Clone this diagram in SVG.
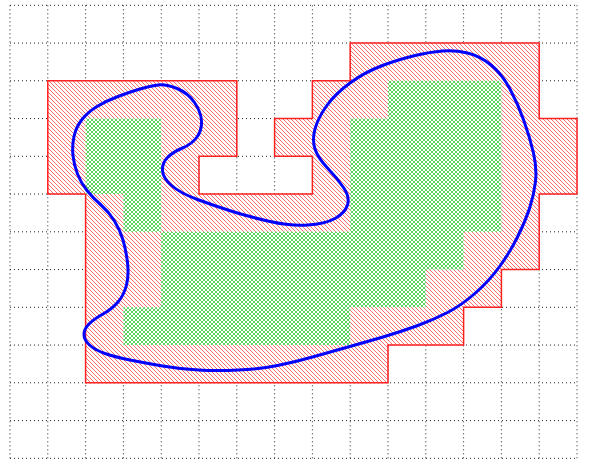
<svg xmlns="http://www.w3.org/2000/svg" width="610" height="461" viewBox="0 0 610 461">
  <style>
    .grid { stroke: #222; stroke-width: 1; stroke-dasharray: 1 3; fill: none; }
    .curve { fill: none; stroke: #0000ff; stroke-width: 3; stroke-linejoin: round; }
  </style>
  <defs>
    <pattern id="nwl" patternUnits="userSpaceOnUse" width="4" height="4">
      <path d="M-1,-1L5,5M-1,3L1,5M3,-1L5,1" stroke="#ff2a2a" stroke-width="0.7"/>
    </pattern>
    <pattern id="cross" patternUnits="userSpaceOnUse" width="4" height="4">
      <path d="M-1,-1L5,5M-1,3L1,5M3,-1L5,1M-1,5L5,-1M-1,1L1,-1M3,5L5,3" stroke="#33cc33" stroke-width="0.8"/>
    </pattern>
  </defs>
  <rect width="610" height="461" fill="#ffffff"/>
  <g id="grid" class="grid">
    <path d="M10,5.3V458.3M47.8,5.3V458.3M85.6,5.3V458.3M123.4,5.3V458.3M161.2,5.3V458.3M199,5.3V458.3M236.8,5.3V458.3M274.6,5.3V458.3M312.4,5.3V458.3M350.2,5.3V458.3M388,5.3V458.3M425.8,5.3V458.3M463.6,5.3V458.3M501.4,5.3V458.3M539.2,5.3V458.3M577,5.3V458.3"/>
    <path d="M10,5.3H577M10,43.05H577M10,80.8H577M10,118.55H577M10,156.3H577M10,194.05H577M10,231.8H577M10,269.55H577M10,307.3H577M10,345.05H577M10,382.8H577M10,420.55H577M10,458.3H577"/>
  </g>
  <g id="red-region">
    <path d="M47.8,80.8H236.8V156.3H199V194.05H312.4V156.3H274.6V118.55H312.4V80.8H350.2V43.05H539.2V118.55H577V194.05H539.2V269.55H501.4V307.3H463.6V345.05H388V382.8H85.6V194.05H47.8Z" fill="#ffffff"/>
    <path d="M47.8,80.8H236.8V156.3H199V194.05H312.4V156.3H274.6V118.55H312.4V80.8H350.2V43.05H539.2V118.55H577V194.05H539.2V269.55H501.4V307.3H463.6V345.05H388V382.8H85.6V194.05H47.8Z" fill="url(#nwl)" stroke="#ff2020" stroke-width="1.5"/>
  </g>
  <g id="green-region">
    <path d="M85.6,118.55H161.2V194.05H85.6Z M123.4,194.05H161.2V231.8H123.4Z M161.2,231.8H463.6V269.55H161.2Z M161.2,269.55H425.8V307.3H161.2Z M123.4,307.3H350.2V345.05H123.4Z M350.2,118.55H501.4V231.8H350.2Z M388,80.8H501.4V118.55H388Z" fill="#ffffff"/>
    <path d="M85.6,118.55H161.2V194.05H85.6Z M123.4,194.05H161.2V231.8H123.4Z M161.2,231.8H463.6V269.55H161.2Z M161.2,269.55H425.8V307.3H161.2Z M123.4,307.3H350.2V345.05H123.4Z M350.2,118.55H501.4V231.8H350.2Z M388,80.8H501.4V118.55H388Z" fill="url(#cross)"/>
  </g>
  <g id="blue-curve">
    <path class="curve" d="M158,85 Q166,84 177,88.5 T194.5,102.5 T201.5,121 T197,137 T182.5,148 T167.5,157.5 T162.5,170.5 T171.5,185.5 T197.5,199.5 T232.5,211.5 T270,221.5 T307.5,225 T335,218.5 T347.5,205 T343.5,187.5 T327.5,168 T315,149 T315,129 T326.5,106 T350,83 T382.5,65.5 T415,55.5 T442.5,51 T467.5,53 T491,65 T510,89 T524,121 T533.5,153 T535.5,181.5 T529.5,208.5 T517.5,237 T500,266 T476,292.5 T447.5,312.5 T416.5,326 T383,337 T348,347 T312.5,357 T277.5,365.5 T238.5,370 T198.5,370 T162.5,366 T130,360 T105,353.5 T89.5,345 T84,334.5 T89,324 T103,314 T118,302 T126.5,285 T127.5,262.5 T123,240 T114.5,221 T101,205 T87,190.5 T77.5,174 T73,155.5 T74,136.5 T82,119.5 T97,106.5 T118,96.5 T140,89 T158,85 Z"/>
  </g>
</svg>
